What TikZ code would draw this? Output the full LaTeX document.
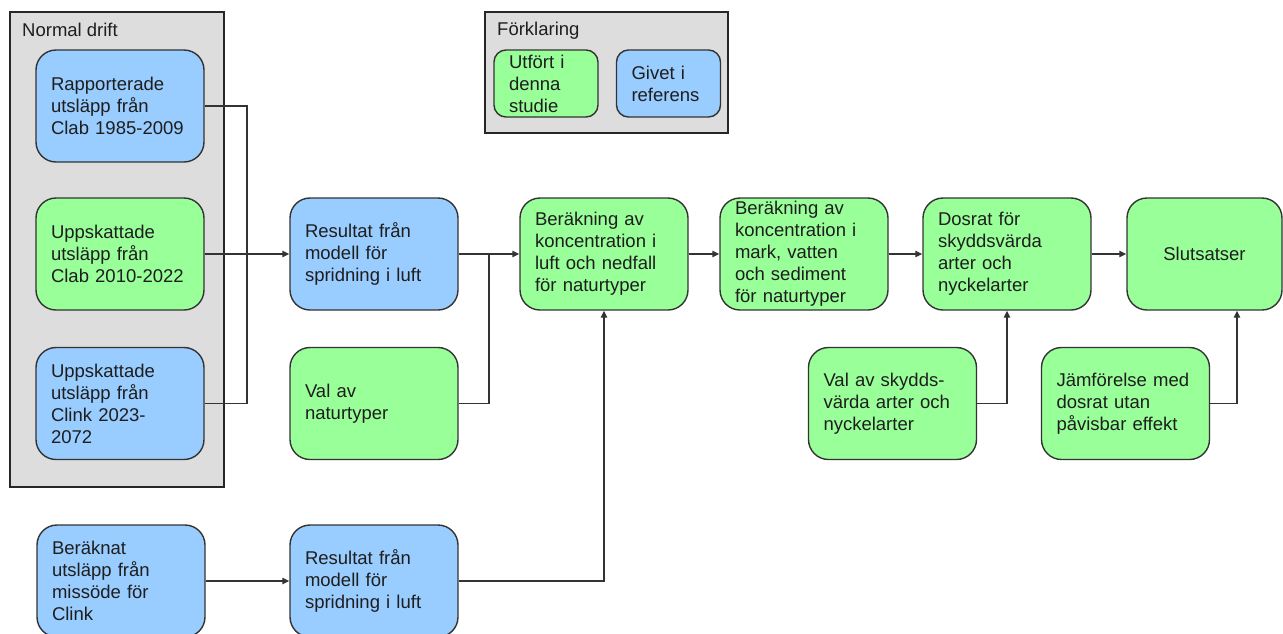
\documentclass[tikz,border=0pt]{standalone}
\usepackage{fontspec}
\setmainfont{Liberation Sans}
\usetikzlibrary{arrows.meta}
\definecolor{givenfill}{HTML}{99CCFF}
\definecolor{donefill}{HTML}{99FF99}
\definecolor{panelgray}{HTML}{DDDDDD}
\definecolor{edgegray}{HTML}{333333}
\definecolor{inkgray}{HTML}{1E1E1E}

\begin{document}
\begin{tikzpicture}[x=1pt,y=-1pt,
  font=\fontsize{18.5}{22}\selectfont,
  box/.style={draw=edgegray, line width=1.4pt, rounded corners=20pt,
    minimum width=168pt, minimum height=112pt, inner xsep=15pt, inner ysep=0pt,
    text width=138pt, align=left, text=inkgray},
  given/.style={box, fill=givenfill},
  done/.style={box, fill=donefill},
  legendbox/.style={draw=edgegray, line width=1.4pt, rounded corners=12pt,
    minimum width=104pt, minimum height=67pt, inner xsep=15pt, inner ysep=0pt,
    text width=74pt, align=left, text=inkgray},
  panel/.style={draw=black!85, line width=1.2pt, fill=panelgray},
  caption/.style={anchor=west, inner sep=0pt, text=inkgray},
  link/.style={draw=edgegray, line width=1.4pt},
  arr/.style={link, -{Triangle[length=7pt,width=6.5pt]}}
]
\useasboundingbox (0,0) rectangle (1283,633);

% grouping panels
\draw[panel] (10,12) rectangle (224,487);
\node[caption] (ndlabel) at (22,30) {Normal drift};
\draw[panel] (485,12) rectangle (728,133);
\node[caption] (fklabel) at (497,31) {Förklaring};

% legend
\node[legendbox, fill=donefill] (lgdone) at (546,83.5) {Utfört i\\denna\\studie};
\node[legendbox, fill=givenfill] (lggiven) at (668.5,83.5) {Givet i\\referens};

% emission sources
\node[given] (b1) at (120,106) {Rapporterade\\utsläpp från\\Clab 1985-2009};
\node[done]  (b2) at (120,254) {Uppskattade\\utsläpp från\\Clab 2010-2022};
\node[given] (b3) at (120,403.5) {Uppskattade\\utsläpp från\\Clink 2023-\\2072};
\node[given] (b4) at (121,581) {Beräknat\\utsläpp från\\missöde för\\Clink};

% dispersion and habitat selection
\node[given] (r1) at (374,254) {Resultat från\\modell för\\spridning i luft};
\node[done]  (val) at (374,403.5) {Val av\\naturtyper};
\node[given] (r2) at (374,581) {Resultat från\\modell för\\spridning i luft};

% calculation chain
\node[done] (c1) at (604,254) {Beräkning av\\koncentration i\\luft och nedfall\\för naturtyper};
\node[done] (c2) at (804,254) {Beräkning av\\koncentration i\\mark, vatten\\och sediment\\för naturtyper};
\node[done] (dos) at (1007,254) {Dosrat för\\skyddsvärda\\arter och\\nyckelarter};
\node[done, minimum width=155pt, text width=125pt, align=center] (slut) at (1204.5,254) {Slutsatser};
\node[done] (vs) at (892.5,403.5) {Val av skydds-\\värda arter och\\nyckelarter};
\node[done] (jf) at (1125.5,403.5) {Jämförelse med\\dosrat utan\\påvisbar effekt};

% connectors
\coordinate (j1) at (247,254);
\draw[link] (b1.east) -| (j1) |- (b3.east);
\draw[arr] (b2.east) -- (r1.west);
\coordinate (j2) at (489,254);
\draw[link] (val.east) -| (j2);
\draw[arr] (r1.east) -- (c1.west);
\draw[arr] (b4.east) -- (r2.west);
\draw[arr] (r2.east) -| (c1.south);
\draw[arr] (c1.east) -- (c2.west);
\draw[arr] (c2.east) -- (dos.west);
\draw[arr] (dos.east) -- (slut.west);
\draw[arr] (vs.east) -| (dos.south);
\draw[arr] (jf.east) -| ([xshift=32.5pt]slut.south);
\end{tikzpicture}
\end{document}
